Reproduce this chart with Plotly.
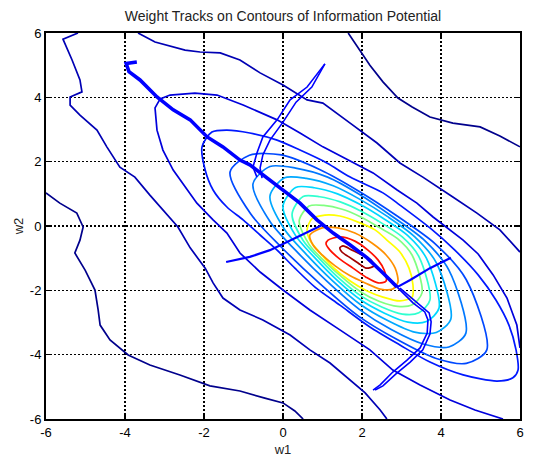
import plotly.graph_objects as go

# ---------------- data ----------------
# contour levels, outermost first; each level is one or more polylines (w1, w2)
L1a_x = [-6, -5.65, -5.22, -5.06, -5.14, -5.27, -5.01, -4.76, -4.68, -4.63, -4.38, -3.92, -3.37, -2.61, -1.85, -1.09, -0.46, 0, 0.30, 0.51]
L1a_y = [1.03, 0.71, 0.40, -0.03, -0.44, -0.84, -1.37, -1.99, -2.61, -3.08, -3.54, -4.01, -4.32, -4.63, -4.97, -5.13, -5.35, -5.50, -5.75, -6]
L1b_x = [1.65, 1.90, 2.20, 2.53, 2.91, 3.27, 3.72, 4.30, 4.99, 5.49, 6]
L1b_y = [6, 5.53, 5.0, 4.48, 3.98, 3.70, 3.39, 3.20, 3.08, 2.80, 2.46]

L2a_x = [-5.19, -5.57, -5.34, -5.14, -5.09, -5.39, -5.39, -5.14, -4.71, -4.46, -4.13, -3.75, -3.37, -2.99, -2.66, -2.35, -1.97, -1.77, -1.52, -1.09, -0.51, 0.18, 0.68, 1.19, 1.70, 2.08, 2.46, 2.63]
L2a_y = [6, 5.81, 5.16, 4.54, 4.17, 4.01, 3.76, 3.45, 2.98, 2.46, 1.83, 1.52, 0.96, 0.44, -0.03, -0.68, -1.31, -1.77, -2.24, -2.61, -2.92, -3.39, -3.85, -4.26, -4.79, -5.19, -5.72, -6]
L2b_x = [-3.67, -3.24, -2.48, -2.10, -1.59, -1.09, -0.58, 0, 0.61, 1.01, 1.70, 2.38, 2.96, 3.54, 4.30, 4.91, 5.49, 5.67, 6]
L2b_y = [6, 5.72, 5.47, 5.41, 5.38, 5.16, 4.76, 4.38, 3.92, 3.82, 3.20, 2.58, 1.96, 1.52, 0.90, 0.40, -0.12, -0.37, -0.81]

L3_x = [6, 5.92, 5.67, 5.32, 4.94, 4.56, 3.80, 3.39, 2.89, 2.28, 1.70, 1.01, 0.43, -0.15, -1.01, -1.67, -2.23, -2.86, -3.11, -3.24, -3.19, -3.04, -2.78, -2.43, -2.18, -1.77, -1.42, -1.09, -0.58, 0, 0.68, 1.44, 2.20, 2.78, 3.47, 4.23, 4.86, 5.57]
L3_y = [-3.79, -3.08, -2.24, -1.52, -0.87, -0.44, 0.28, 0.71, 1.12, 1.65, 2.02, 2.46, 2.89, 3.30, 3.76, 4.07, 4.13, 4.07, 3.95, 3.67, 2.98, 2.36, 1.74, 1.12, 0.71, 0.19, -0.22, -0.84, -1.43, -1.99, -2.61, -3.23, -3.85, -4.48, -4.94, -5.41, -5.72, -6]

L4_x = [-2.05, -1.80, -1.42, -0.84, -0.15, 0.43, 1.11, 1.70, 2.53, 2.96, 3.72, 4.35, 4.94, 5.39, 5.72, 5.90, 5.95, 5.82, 5.42, 4.56, 3.72, 2.96, 2.20, 1.44, 0.81, 0.30, -0.15, -0.58, -1.01, -1.42, -1.77, -1.97, -2.05]
L4_y = [2.46, 2.92, 2.98, 2.89, 2.67, 2.36, 1.96, 1.52, 1.03, 0.65, -0.06, -0.75, -1.52, -2.30, -3.08, -3.85, -4.48, -4.72, -4.82, -4.63, -4.23, -3.70, -3.14, -2.46, -1.90, -1.31, -0.75, -0.28, 0.19, 0.59, 1.12, 1.74, 2.46]

L5_x = [-1.34, -0.85, -0.04, 0.94, 1.91, 2.89, 3.86, 4.64, 5.16, 4.64, 3.86, 2.89, 1.91, 0.94, -0.04, -0.82, -1.34]
L5_y = [1.68, 2.20, 2.21, 1.75, 1.09, 0.31, -0.56, -1.67, -3.85, -4.27, -4.11, -3.53, -2.80, -1.80, -0.66, 0.38, 1.68]

L6_x = [-0.76, -0.33, 0.32, 1.13, 1.94, 2.74, 3.55, 4.20, 4.63, 4.20, 3.55, 2.74, 1.94, 1.13, 0.32, -0.33, -0.76]
L6_y = [1.31, 1.85, 1.80, 1.52, 0.98, 0.32, -0.41, -1.37, -3.33, -3.76, -3.67, -3.22, -2.60, -1.74, -0.76, 0.14, 1.31]

L7_x = [-0.33, 0.04, 0.59, 1.27, 1.96, 2.65, 3.33, 3.88, 4.25, 3.88, 3.33, 2.65, 1.96, 1.27, 0.59, 0.04, -0.33]
L7_y = [0.93, 1.50, 1.48, 1.25, 0.82, 0.29, -0.33, -1.14, -2.89, -3.31, -3.30, -2.94, -2.44, -1.72, -0.88, -0.11, 0.93]

L8_x = [0, 0.32, 0.79, 1.38, 1.98, 2.57, 3.16, 3.63, 3.95, 3.63, 3.16, 2.57, 1.98, 1.38, 0.79, 0.32, 0]
L8_y = [0.62, 1.20, 1.19, 1.00, 0.65, 0.21, -0.30, -1.00, -2.55, -2.97, -2.99, -2.71, -2.31, -1.70, -0.97, -0.30, 0.62]

L9_x = [0.23, 0.51, 0.93, 1.45, 1.98, 2.50, 3.02, 3.44, 3.72, 3.44, 3.02, 2.50, 1.98, 1.45, 0.93, 0.51, 0.23]
L9_y = [0.37, 0.92, 0.91, 0.75, 0.46, 0.09, -0.34, -0.95, -2.30, -2.70, -2.74, -2.52, -2.18, -1.66, -1.03, -0.45, 0.37]

L10_x = [0.41, 0.66, 1.03, 1.50, 1.97, 2.43, 2.90, 3.27, 3.52, 3.27, 2.90, 2.43, 1.97, 1.50, 1.03, 0.66, 0.41]
L10_y = [0.16, 0.62, 0.64, 0.52, 0.28, -0.04, -0.39, -0.91, -2.08, -2.45, -2.50, -2.34, -2.05, -1.60, -1.07, -0.57, 0.16]

L11_x = [0.61, 0.73, 1.06, 1.44, 1.90, 2.33, 2.66, 2.96, 3.19, 3.29, 3.27, 2.96, 2.53, 2.13, 1.70, 1.29, 0.94, 0.68, 0.61]
L11_y = [-0.12, 0.22, 0.34, 0.31, 0.12, -0.12, -0.47, -0.81, -1.31, -1.83, -2.21, -2.33, -2.21, -2.02, -1.71, -1.31, -0.84, -0.44, -0.12]

L12_x = [0.68, 0.99, 1.39, 1.82, 2.25, 2.61, 2.84, 2.91, 2.78, 2.46, 2.08, 1.70, 1.32, 0.99, 0.76, 0.68]
L12_y = [-0.28, -0.06, -0.06, -0.22, -0.53, -0.90, -1.31, -1.74, -1.96, -1.96, -1.77, -1.55, -1.24, -0.90, -0.59, -0.28]

L13_x = [1.09, 1.14, 1.44, 1.82, 2.15, 2.41, 2.56, 2.61, 2.41, 2.10, 1.77, 1.44, 1.19, 1.09]
L13_y = [-0.56, -0.44, -0.34, -0.47, -0.75, -1.06, -1.37, -1.71, -1.77, -1.59, -1.31, -1.03, -0.75, -0.56]

L14_x = [1.44, 1.52, 1.75, 2.00, 2.23, 2.30, 2.10, 1.90, 1.67, 1.49, 1.44]
L14_y = [-0.68, -0.62, -0.75, -0.90, -1.06, -1.24, -1.31, -1.15, -0.96, -0.81, -0.68]

level_colors = ['#00008C', '#0000B4', '#0000DC', '#0018FF', '#0048FF', '#0078FF', '#00A8FF',
                '#00D8FF', '#30FFD0', '#80FF80', '#FFFF00', '#FF9000', '#FF1000', '#A00000']

# weight tracks
track_main_x = [-3.70, -3.97, -3.90, -3.62, -3.19, -2.78, -2.35, -1.92, -1.52, -1.09, -0.84, -0.41, 0, 0.43, 0.86, 1.27, 1.70, 2.13, 2.53, 2.89]
track_main_y = [5.10, 5.05, 4.80, 4.54, 4.01, 3.61, 3.30, 2.77, 2.46, 2.05, 1.90, 1.49, 1.12, 0.71, 0.19, -0.22, -0.59, -0.99, -1.46, -1.90]
track_v1_x = [1.06, 0.61, 0.18, -0.15, -0.51, -0.66, -0.76, -0.66]
track_v1_y = [5.04, 4.32, 3.92, 3.30, 2.77, 2.27, 1.83, 1.52]
track_v2_x = [1.06, 0.73, 0.33, 0, -0.33, -0.51, -0.58, -0.53]
track_v2_y = [5.04, 4.32, 3.85, 3.23, 2.67, 2.21, 1.80, 1.49]
track_low1_x = [2.89, 3.29, 3.59, 3.67, 3.65, 3.47, 3.14, 2.78, 2.46, 2.28]
track_low1_y = [-1.90, -2.39, -2.67, -2.92, -3.33, -3.79, -4.17, -4.54, -4.94, -5.10]
track_low2_x = [2.96, 3.37, 3.70, 3.75, 3.72, 3.54, 3.22, 2.86, 2.53, 2.33]
track_low2_y = [-1.93, -2.36, -2.70, -2.98, -3.36, -3.85, -4.23, -4.60, -4.97, -5.10]
track_right_x = [4.25, 3.72, 3.22, 2.89]
track_right_y = [-0.99, -1.31, -1.68, -1.90]
track_left_x = [-1.44, -0.84, -0.33, 0.18, 0.70, 1.02]
track_left_y = [-1.12, -0.96, -0.75, -0.44, -0.12, 0.05]

ticks = [-6, -4, -2, 0, 2, 4, 6]

# ---------------- figure ----------------
fig = go.Figure()

contours = [
    (0, L1a_x, L1a_y, 'linear'), (0, L1b_x, L1b_y, 'linear'),
    (1, L2a_x, L2a_y, 'linear'), (1, L2b_x, L2b_y, 'linear'),
    (2, L3_x, L3_y, 'linear'), (3, L4_x, L4_y, 'spline'),
    (4, L5_x, L5_y, 'spline'), (5, L6_x, L6_y, 'spline'),
    (6, L7_x, L7_y, 'spline'), (7, L8_x, L8_y, 'spline'),
    (8, L9_x, L9_y, 'spline'), (9, L10_x, L10_y, 'spline'),
    (10, L11_x, L11_y, 'spline'), (11, L12_x, L12_y, 'spline'),
    (12, L13_x, L13_y, 'spline'), (13, L14_x, L14_y, 'spline'),
]
for lev, xs, ys, shape in contours:
    fig.add_trace(go.Scatter(x=xs, y=ys, mode='lines',
                             line=dict(color=level_colors[lev], width=1.7, shape=shape,
                                       smoothing=0.8 if shape == 'spline' else None),
                             hoverinfo='skip', showlegend=False))

tracks = [
    (track_v1_x, track_v1_y, 1.6), (track_v2_x, track_v2_y, 1.6),
    (track_low1_x, track_low1_y, 1.6), (track_low2_x, track_low2_y, 1.6),
    (track_right_x, track_right_y, 2.2), (track_left_x, track_left_y, 2.2),
    (track_main_x, track_main_y, 3.6),
]
for xs, ys, w in tracks:
    fig.add_trace(go.Scatter(x=xs, y=ys, mode='lines',
                             line=dict(color='#0000FF', width=w),
                             hoverinfo='skip', showlegend=False))

font_family = 'Liberation Sans, Arial, sans-serif'
axis_common = dict(range=[-6, 6], tickvals=ticks, ticktext=[str(t) for t in ticks],
                   showgrid=True, gridcolor='black', gridwidth=1.5, griddash='2px,2px',
                   zeroline=False, showline=True, linecolor='black', linewidth=2,
                   mirror='ticks', ticks='inside', ticklen=4, tickcolor='black', tickwidth=1.5,
                   tickfont=dict(family=font_family, size=13, color='black'),
                   automargin=False)

fig.update_layout(
    width=538, height=458,
    margin=dict(l=46, r=18, t=33, b=39),
    paper_bgcolor='white', plot_bgcolor='white',
    title=dict(text='Weight Tracks on Contours of Information Potential',
               font=dict(family=font_family, size=14, color='#222222'),
               x=0.5, xref='paper', xanchor='center', y=1 - 16 / 458, yref='container', yanchor='middle'),
    xaxis=dict(axis_common, title=dict(text='w1', standoff=6,
                                       font=dict(family=font_family, size=13, color='#222222'))),
    yaxis=dict(axis_common, title=dict(text='w2', standoff=3,
                                       font=dict(family=font_family, size=13, color='#222222'))),
    hovermode=False,
)

fig.write_html('out.html', config={'displayModeBar': False, 'staticPlot': True},
               post_script="document.body.style.margin='0px';document.body.style.padding='0px';")
